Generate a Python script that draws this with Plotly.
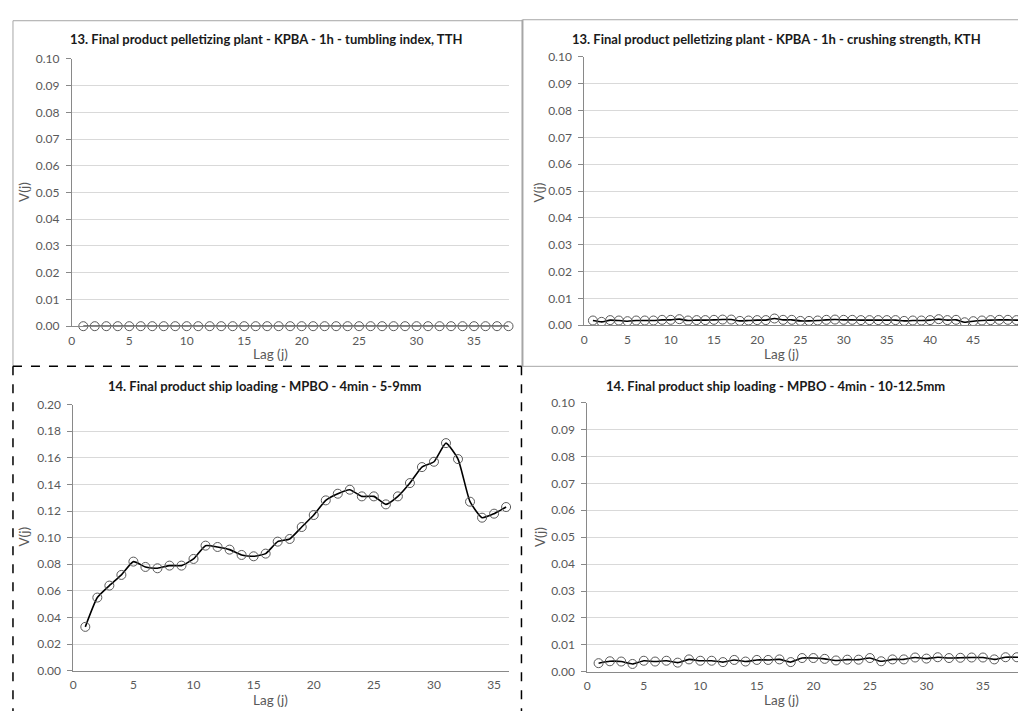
import plotly.graph_objects as go

W, H = 1018, 715

# Lag series and variogram values V(j) for the four sampling cases
lag_tth = list(range(1, 39))
v_tth = [0.0] * 38

lag_kth = list(range(1, 52))
v_kth = [0.00175, 0.00125, 0.0019, 0.00175, 0.0015, 0.00175, 0.00175, 0.00175, 0.002, 0.002,
         0.00225, 0.00175, 0.0019, 0.0019, 0.002, 0.0021, 0.0021, 0.0016, 0.00175, 0.0019,
         0.0019, 0.0025, 0.002, 0.002, 0.0016, 0.0016, 0.00175, 0.002, 0.0021, 0.002,
         0.002, 0.0019, 0.0019, 0.0019, 0.0019, 0.0019, 0.0016, 0.00175, 0.00175, 0.0019,
         0.00225, 0.0019, 0.002, 0.0011, 0.0015, 0.00175, 0.0019, 0.002, 0.002, 0.0019, 0.002]

lag_59 = list(range(1, 37))
v_59 = [0.033, 0.055, 0.064, 0.072, 0.082, 0.078, 0.077, 0.079, 0.079, 0.084,
        0.094, 0.093, 0.091, 0.087, 0.086, 0.088, 0.097, 0.099, 0.108, 0.117,
        0.128, 0.133, 0.136, 0.131, 0.131, 0.125, 0.131, 0.141, 0.153, 0.157,
        0.171, 0.159, 0.127, 0.115, 0.118, 0.123]

lag_1012 = list(range(1, 40))
v_1012 = [0.0032, 0.0039, 0.0038, 0.0029, 0.0041, 0.0038, 0.0041, 0.0034, 0.0046, 0.0041,
          0.0041, 0.0036, 0.0044, 0.0038, 0.0044, 0.0044, 0.0046, 0.0036, 0.0051, 0.0051,
          0.0048, 0.0042, 0.0045, 0.0045, 0.0051, 0.0039, 0.0046, 0.0046, 0.0053, 0.0049,
          0.0054, 0.0051, 0.0052, 0.0053, 0.0053, 0.0046, 0.0054, 0.0054, 0.0052]

titles = [
    "13. Final product pelletizing plant - KPBA - 1h - tumbling index, TTH",
    "13. Final product pelletizing plant - KPBA - 1h - crushing strength, KTH",
    "14. Final product ship loading - MPBO - 4min - 5-9mm",
    "14. Final product ship loading - MPBO - 4min - 10-12.5mm",
]

FONT = "Lato"
TICK_COLOR = "#595959"
GRID = "#d9d9d9"
AXIS = "#898989"


def px(x):
    return x / W


def py(y):
    return 1 - y / H


# panel geometry in pixels: plot-area left, right, top, bottom; axis ranges
panels = [
    dict(x=lag_tth, y=v_tth, l=69, r=507, t=52, b=325, xr=[0, 38], yr=[0, 0.10], dy=0.01),
    dict(x=lag_kth, y=v_kth, l=583, r=1018, t=50, b=324, xr=[0, 50.17], yr=[0, 0.10], dy=0.01),
    dict(x=lag_59, y=v_59, l=70.5, r=507, t=405, b=677, xr=[0, 36.2], yr=[0, 0.20], dy=0.02),
    dict(x=lag_1012, y=v_1012, l=586, r=1018, t=403, b=678, xr=[0, 38.1], yr=[0, 0.10], dy=0.01),
]

fig = go.Figure()
layout = {}
annotations = []

for i, p in enumerate(panels):
    n = "" if i == 0 else str(i + 1)
    fig.add_trace(go.Scatter(
        x=p["x"], y=p["y"], mode="lines+markers",
        line=dict(color="#000000", width=1.6, shape="spline", smoothing=0.5),
        marker=dict(symbol="circle", size=9, color="rgba(255,255,255,0)",
                    line=dict(color="#5a5a5a", width=1)),
        xaxis="x" + n, yaxis="y" + n, showlegend=False, cliponaxis=(i % 2 == 1),
    ))
    layout["xaxis" + n] = dict(
        domain=[px(p["l"]), px(p["r"])], range=p["xr"], anchor="y" + n,
        dtick=5, tick0=0, showgrid=False, zeroline=False,
        showline=True, linecolor=AXIS, linewidth=1,
        ticks="", ticklabelstandoff=3,
        tickfont=dict(family=FONT, size=12, color=TICK_COLOR),
    )
    layout["yaxis" + n] = dict(
        domain=[py(p["b"]), py(p["t"])], range=p["yr"], anchor="x" + n,
        dtick=p["dy"], tick0=0, tickformat=".2f",
        showgrid=True, gridcolor=GRID, gridwidth=1, zeroline=False,
        showline=True, linecolor=AXIS, linewidth=1,
        ticks="outside", ticklen=5, tickcolor=AXIS, ticklabelstandoff=4,
        tickfont=dict(family=FONT, size=12, color=TICK_COLOR),
    )

# chart titles and axis titles
title_pos = [(264, 32), (776, 32), (263, 386), (775, 386)]
vj_pos = [(21, 188), (538, 188), (21, 540), (538, 540)]
lag_pos = [(268, 353), (781, 353), (268, 707), (781, 707)]

for i in range(4):
    tx, ty = title_pos[i]
    annotations.append(dict(text="<b>" + titles[i] + "</b>", x=px(tx), y=py(ty),
                            xref="paper", yref="paper", showarrow=False,
                            xanchor="center", yanchor="middle",
                            font=dict(family=FONT, size=13, color="#1a1a1a")))
    vx, vy = vj_pos[i]
    annotations.append(dict(text="V(j)", x=px(vx), y=py(vy), xref="paper", yref="paper",
                            showarrow=False, textangle=-90, xanchor="center", yanchor="middle",
                            font=dict(family=FONT, size=13.5, color=TICK_COLOR)))
    lx, ly = lag_pos[i]
    annotations.append(dict(text="Lag (j)", x=px(lx), y=py(ly), xref="paper", yref="paper",
                            showarrow=False, xanchor="center", yanchor="middle",
                            font=dict(family=FONT, size=13.5, color=TICK_COLOR)))

# chart frames
frame = "#a6a6a6"


def seg(x0, y0, x1, y1, color, width, dash="solid"):
    return dict(type="line", xref="paper", yref="paper",
                x0=px(x0), x1=px(x1), y0=py(y0), y1=py(y1),
                line=dict(color=color, width=width, dash=dash))


shapes = [
    seg(10, 13, 10, 366, frame, 1),
    seg(10, 13, 521, 13, frame, 1),
    seg(521, 12, 1018, 12, frame, 1),
    seg(521, 12, 521, 366, frame, 2),
    seg(521, 366, 1018, 366, frame, 1),
    # selected chart: dashed outline
    seg(10, 366, 520, 366, "#000000", 1.5, "dash"),
    seg(10, 366, 10, 718, "#000000", 1.5, "dash"),
    seg(520, 366, 520, 718, "#000000", 1.5, "dash"),
]

fig.update_layout(
    width=W, height=H, margin=dict(l=0, r=0, t=0, b=0),
    paper_bgcolor="white", plot_bgcolor="white",
    annotations=annotations, shapes=shapes, **layout,
)

fig.write_html("out.html")
